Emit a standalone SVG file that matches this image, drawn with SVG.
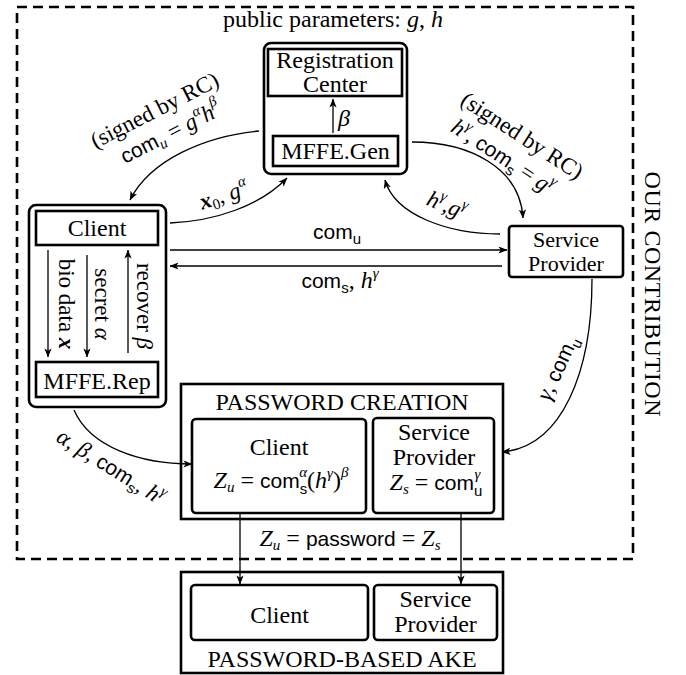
<svg xmlns="http://www.w3.org/2000/svg" width="686" height="675" viewBox="0 0 686 675">
<style>
.t{font-family:"Liberation Serif","Times New Roman",serif;font-size:24px;fill:#000}
.l{font-size:23px}
.n{font-size:22px}
.m{font-family:"Liberation Serif","Times New Roman",serif;font-style:italic}
.s{font-family:"Liberation Sans",Arial,sans-serif;font-style:normal;font-size:21px}
.sb{font-size:15px}
.b{stroke:#000;stroke-width:2.6;fill:none}
.c{stroke:#000;stroke-width:1.3;fill:none}
</style>
<defs>
<marker id="ah" viewBox="0 0 10 10" refX="9.5" refY="5" markerWidth="9" markerHeight="9" markerUnits="userSpaceOnUse" orient="auto">
<path d="M0,1 L10,5 L0,9 L2.5,5 z" fill="#000"/>
</marker>
</defs>
<rect x="17" y="7" width="616" height="552" fill="none" stroke="#000" stroke-width="2.6" stroke-dasharray="10 6"/>
<text class="t" x="333" y="27" text-anchor="middle">public parameters: <tspan class="m">g</tspan>, <tspan class="m">h</tspan></text>
<text class="t" transform="translate(645,294) rotate(90)" text-anchor="middle" textLength="245">OUR CONTRIBUTION</text>

<g id="rc">
<rect class="b" x="264" y="43" width="143" height="131" rx="7"/>
<rect class="b" x="268" y="49" width="134" height="47"/>
<text class="t" x="335" y="68" text-anchor="middle">Registration<tspan x="335" dy="24">Center</tspan></text>
<rect class="b" x="273" y="136" width="125" height="30"/>
<text class="t" x="335.5" y="159" text-anchor="middle">MFFE.Gen</text>
<line class="c" x1="333" y1="133" x2="333" y2="99" marker-end="url(#ah)"/>
<text class="t m" x="338" y="126">β</text>
</g>

<g id="client">
<rect class="b" x="29" y="205" width="137" height="202" rx="7"/>
<rect class="b" x="36" y="211" width="122" height="34"/>
<text class="t" x="97" y="236" text-anchor="middle">Client</text>
<rect class="b" x="36" y="362" width="122" height="35"/>
<text class="t" x="97" y="389" text-anchor="middle">MFFE.Rep</text>
<line class="c" x1="48" y1="250" x2="48" y2="357" marker-end="url(#ah)"/>
<line class="c" x1="87" y1="255" x2="87" y2="357" marker-end="url(#ah)"/>
<line class="c" x1="128" y1="353" x2="128" y2="250" marker-end="url(#ah)"/>
<text class="t l" transform="translate(59,304) rotate(90)" text-anchor="middle">bio data <tspan class="m" font-weight="bold">x</tspan></text>
<text class="t l" transform="translate(95,304) rotate(90)" text-anchor="middle">secret <tspan class="m">α</tspan></text>
<text class="t l" transform="translate(137,306) rotate(90)" text-anchor="middle">recover <tspan class="m">β</tspan></text>
</g>

<g id="sp">
<rect class="b" x="509" y="226" width="114" height="51" rx="3"/>
<text class="t n" x="566" y="247" text-anchor="middle">Service<tspan x="566" dy="24">Provider</tspan></text>
</g>

<g id="pwc">
<rect class="b" x="181" y="384" width="322" height="135"/>
<text class="t" x="342" y="410" text-anchor="middle">PASSWORD CREATION</text>
<rect class="b" x="192" y="419" width="174" height="94" rx="4"/>
<text class="t" x="279" y="455" text-anchor="middle">Client<tspan x="281" dy="33" class="m">Z</tspan><tspan class="m sb" dy="4">u</tspan><tspan dy="-4"> = </tspan><tspan class="s">com</tspan><tspan class="s sb" dy="6">s</tspan><tspan class="m sb" dx="-8" dy="-17">α</tspan><tspan dy="11">(</tspan><tspan class="m">h</tspan><tspan class="m sb" dy="-10">γ</tspan><tspan dy="10">)</tspan><tspan class="m sb" dy="-11">β</tspan></text>
<rect class="b" x="373" y="418" width="121" height="95" rx="4"/>
<text class="t" x="434" y="440" text-anchor="middle">Service<tspan x="434" dy="25">Provider</tspan><tspan x="436" dy="25" class="m">Z</tspan><tspan class="m sb" dy="4">s</tspan><tspan dy="-4"> = </tspan><tspan class="s">com</tspan><tspan class="s sb" dy="6">u</tspan><tspan class="m sb" dx="-8" dy="-17">γ</tspan></text>
</g>

<g id="ake">
<rect class="b" x="181" y="572" width="322" height="101"/>
<rect class="b" x="191" y="585" width="177" height="55" rx="4"/>
<text class="t" x="279.5" y="623" text-anchor="middle">Client</text>
<rect class="b" x="374" y="585" width="123" height="55" rx="4"/>
<text class="t" x="435.5" y="607" text-anchor="middle">Service<tspan x="435.5" dy="25">Provider</tspan></text>
<text class="t" x="342" y="667" text-anchor="middle">PASSWORD-BASED AKE</text>
</g>

<g id="connectors">
<path class="c" d="M259,131 C205,136 150,160 130,200" marker-end="url(#ah)"/>
<path class="c" d="M170,223 C215,221 260,206 287,178" marker-end="url(#ah)"/>
<path class="c" d="M412,142 C470,142 520,168 523,218" marker-end="url(#ah)"/>
<path class="c" d="M500,234 C450,234 395,216 385,180" marker-end="url(#ah)"/>
<line class="c" x1="170" y1="250" x2="507" y2="250" marker-end="url(#ah)"/>
<line class="c" x1="502" y1="266" x2="170" y2="266" marker-end="url(#ah)"/>
<path class="c" d="M74,410 C90,447 140,464 192,464" marker-end="url(#ah)"/>
<path class="c" d="M592,279 C592,372 562,447 502,452" marker-end="url(#ah)"/>
<line class="c" x1="240" y1="513" x2="240" y2="584" marker-end="url(#ah)"/>
<line class="c" x1="461" y1="513" x2="461" y2="584" marker-end="url(#ah)"/>

<text class="t l" transform="translate(158,117) rotate(-27)" text-anchor="middle">(signed by RC)</text>
<text class="t l" transform="translate(174,139) rotate(-27)" text-anchor="middle"><tspan class="s">com</tspan><tspan class="m sb" dy="4">u</tspan><tspan dy="-4"> = </tspan><tspan class="m">g</tspan><tspan class="m sb" dy="-10">α</tspan><tspan class="m" dy="10">h</tspan><tspan class="m sb" dy="-11">β</tspan></text>
<text class="t l" transform="translate(226,202) rotate(-18)" text-anchor="middle"><tspan class="m" font-weight="bold">x</tspan><tspan class="sb" dy="4">0</tspan><tspan dy="-4">, </tspan><tspan class="m">g</tspan><tspan class="m sb" dy="-10">α</tspan></text>
<text class="t l" transform="translate(518,142) rotate(33)" text-anchor="middle">(signed by RC)</text>
<text class="t l" transform="translate(499,163) rotate(33)" text-anchor="middle"><tspan class="m">h</tspan><tspan class="m sb" dy="-10">γ</tspan><tspan dy="10">, </tspan><tspan class="s">com</tspan><tspan class="s sb" dy="5">s</tspan><tspan dy="-5"> = </tspan><tspan class="m">g</tspan><tspan class="m sb" dy="-10">γ</tspan></text>
<text class="t l" transform="translate(444,212) rotate(22)" text-anchor="middle"><tspan class="m">h</tspan><tspan class="m sb" dy="-10">γ</tspan><tspan dy="10">,</tspan><tspan class="m">g</tspan><tspan class="m sb" dy="-10">γ</tspan></text>
<text class="t" x="337" y="239" text-anchor="middle"><tspan class="s">com</tspan><tspan class="s sb" dy="5">u</tspan></text>
<text class="t" x="340" y="288" text-anchor="middle"><tspan class="s">com</tspan><tspan class="s sb" dy="5">s</tspan><tspan dy="-5">, </tspan><tspan class="m">h</tspan><tspan class="m sb" dy="-10">γ</tspan></text>
<text class="t l" transform="translate(107,473) rotate(32)" text-anchor="middle"><tspan class="m">α</tspan>, <tspan class="m">β</tspan>, <tspan class="s">com</tspan><tspan class="s sb" dy="5">s</tspan><tspan dy="-5">, </tspan><tspan class="m">h</tspan><tspan class="m sb" dy="-10">γ</tspan></text>
<text class="t l" transform="translate(564,371) rotate(-65)" text-anchor="middle"><tspan class="m">γ</tspan>, <tspan class="s">com</tspan><tspan class="s sb" dy="5">u</tspan></text>
<text class="t" x="350" y="546" text-anchor="middle"><tspan class="m">Z</tspan><tspan class="m sb" dy="4">u</tspan><tspan dy="-4"> = </tspan><tspan class="s">password</tspan> = <tspan class="m">Z</tspan><tspan class="m sb" dy="4">s</tspan></text>
</g>
</svg>
